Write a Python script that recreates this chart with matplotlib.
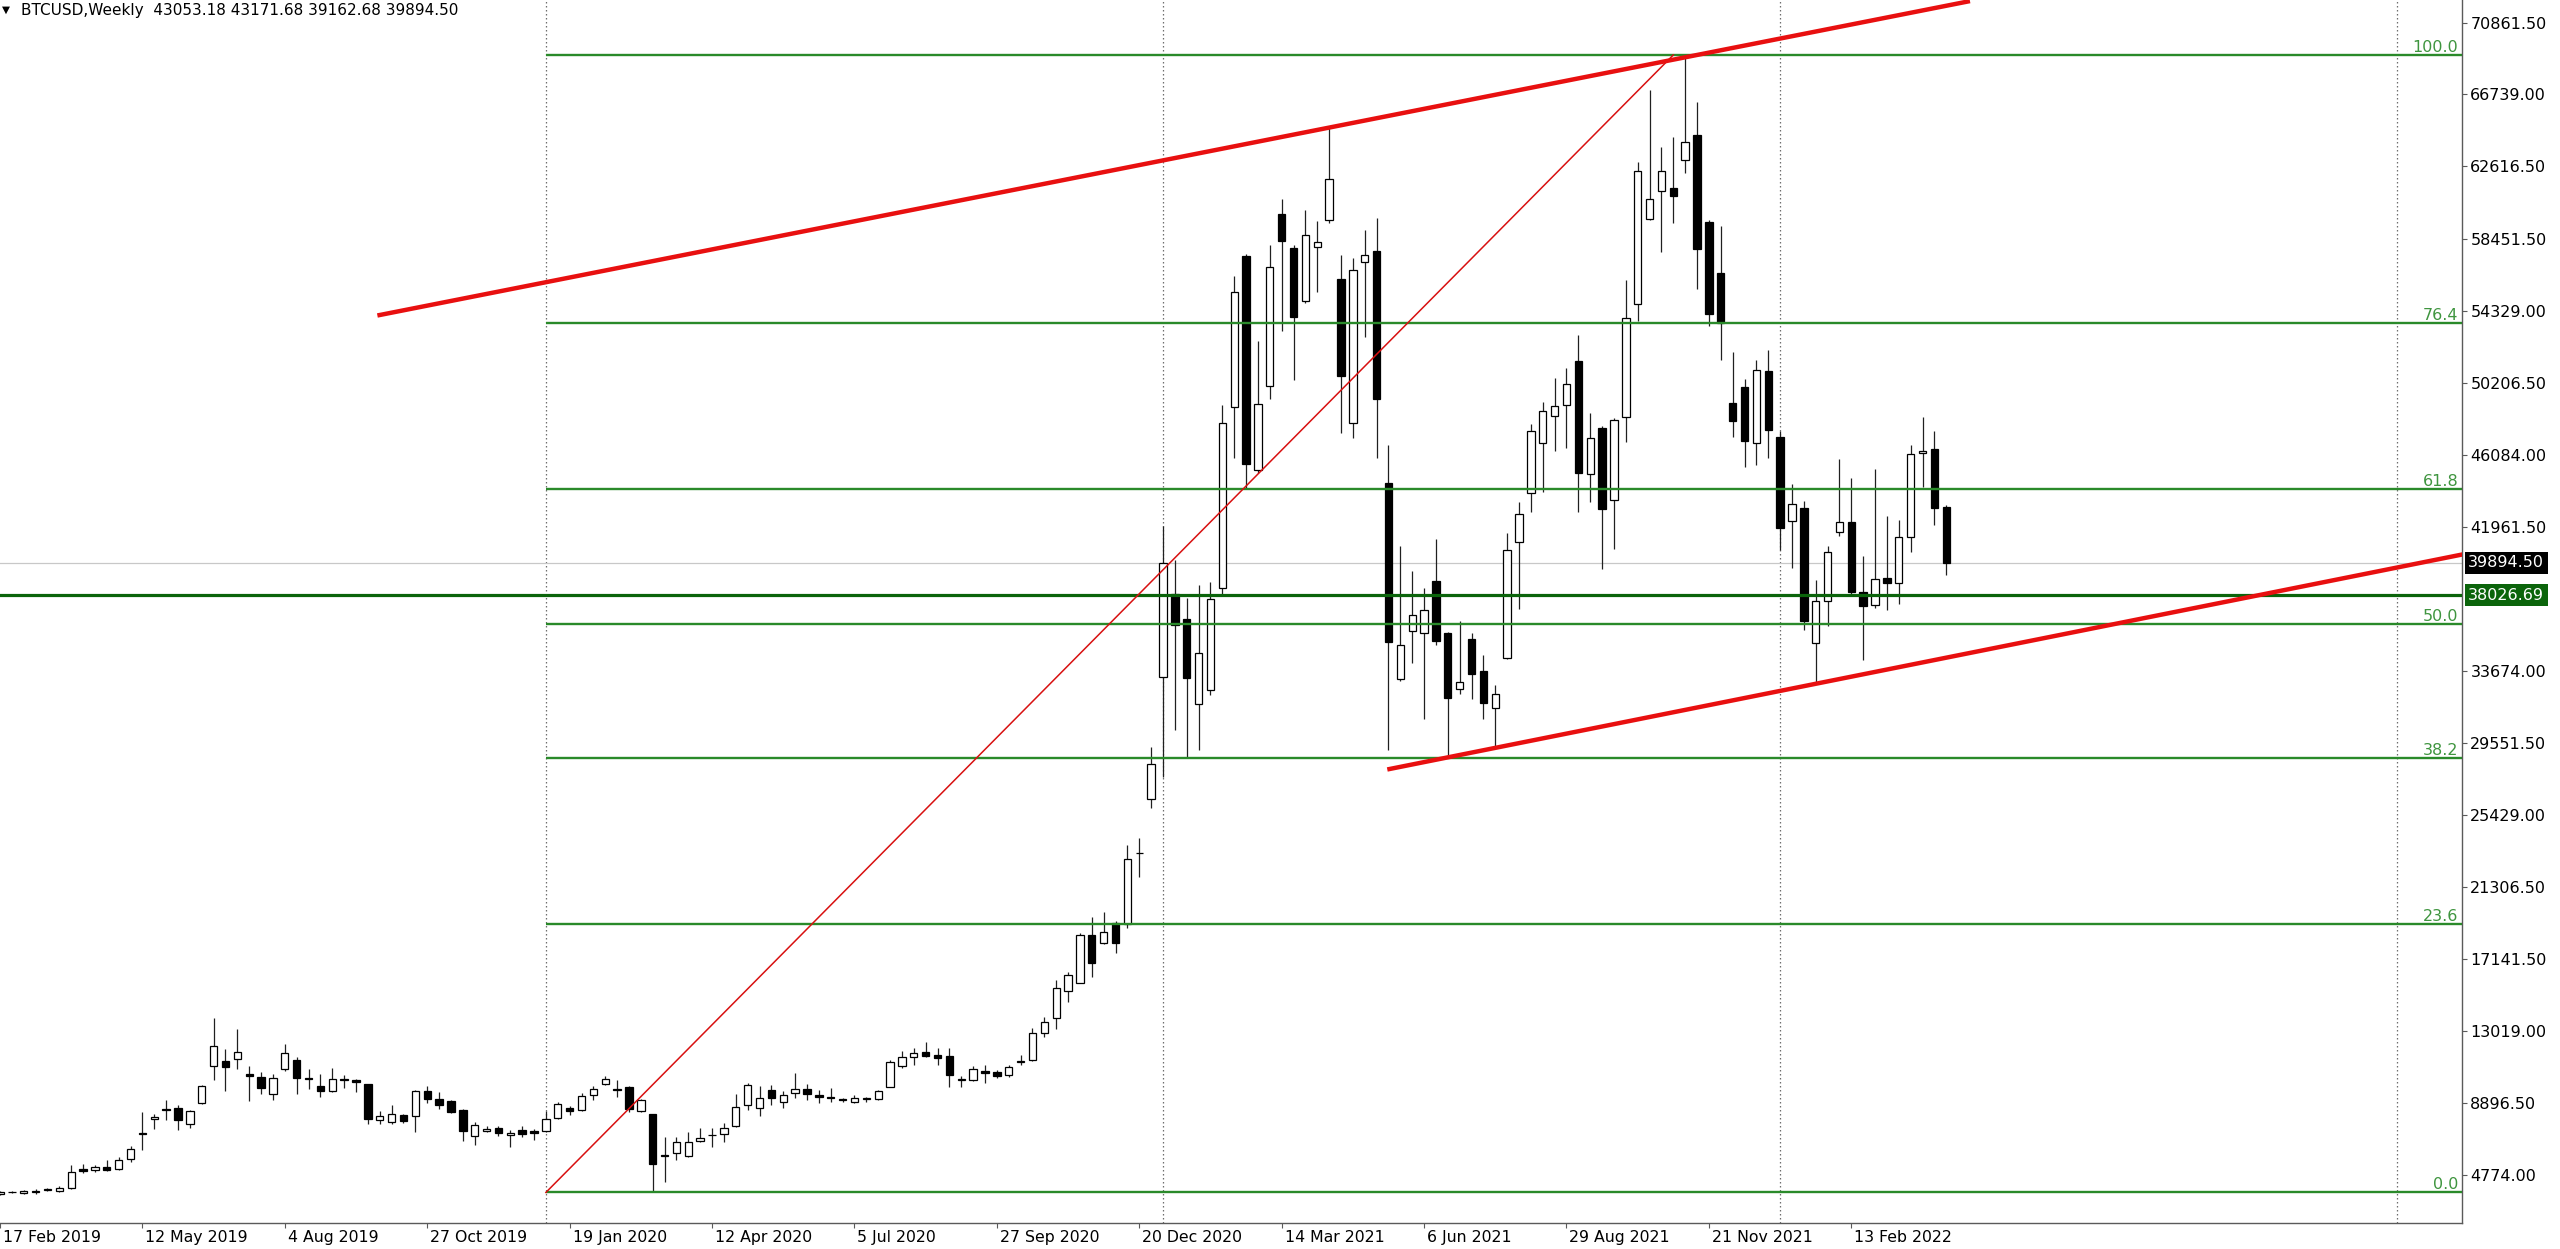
import matplotlib
matplotlib.use("Agg")
import matplotlib.pyplot as plt
import matplotlib.transforms as mtrans
import numpy as np

# ---------------- data (weekly candles, first week = 17 Feb 2019) ----------------
symbol_title = "BTCUSD,Weekly  43053.18 43171.68 39162.68 39894.50"

opens = [3700, 3780, 3736, 3820, 3930, 3870, 4041, 5093, 5035, 5246, 5093, 5704, 7160, 7979, 8533,
         8629, 7673, 8896, 10999, 11304, 11438, 10540, 10406, 9431, 10865, 11343, 10320, 9890, 9565,
         10291, 10215, 9967, 7940, 7807, 8189, 8151, 9584, 9107, 8992, 8514, 6985, 7291, 7482, 7080,
         7329, 7291, 7291, 8055, 8629, 8514, 9374, 9967, 9718, 9814, 8438, 8250, 5934, 6013, 5860,
         6720, 7050, 7103, 7581, 8786, 8594, 9646, 8977, 9455, 9684, 9359, 9250, 9100, 8939, 9130,
         9111, 9837, 11023, 11558, 11806, 11653, 11596, 10250, 10219, 10755, 10697, 10506, 11260,
         11367, 12934, 13757, 15344, 15803, 18537, 18097, 19206, 19168, 23220, 26335, 33360, 38120,
         36640, 31790, 32610, 38450, 48840, 57452, 45200, 50019, 59886, 57913, 54889, 57964, 59553,
         56170, 47917, 57144, 57785, 44457, 33231, 35974, 35845, 38818, 35845, 32642, 35486, 33692,
         31566, 34436, 41048, 43868, 46738, 48276, 48917, 51480, 44970, 47584, 43483, 48225, 54716,
         59572, 61198, 61351, 62976, 64410, 59400, 56513, 49045, 49942, 46764, 50864, 47071, 42279,
         43022, 35281, 37716, 41638, 42202, 38178, 37460, 38998, 38742, 41382, 46148, 46379, 43053.18]
highs = [3850, 3850, 3927, 3946, 4022, 4118, 5341, 5418, 5361, 5609, 5800, 6431, 8380, 8285, 9087,
         8762, 8476, 9928, 13789, 12012, 13159, 10999, 10674, 10578, 12260, 11534, 10865, 10578, 10903,
         10483, 10291, 10005, 8438, 8762, 8284, 9661, 9852, 9527, 9049, 8571, 7807, 7578, 7597, 7329,
         7578, 7425, 8438, 8954, 8724, 9470, 9852, 10425, 10234, 9852, 9145, 8284, 6940, 6931, 7218,
         7447, 7447, 7734, 9416, 10028, 9876, 9933, 9608, 10602, 9990, 9646, 9742, 9206, 9359, 9263,
         9646, 11367, 11902, 12036, 12418, 12036, 12036, 10449, 11042, 11080, 10793, 11080, 11653,
         13183, 13814, 15955, 16433, 18670, 19550, 19875, 19359, 23699, 24081, 29316, 41970, 40058,
         37860, 38624, 38758, 48917, 56349, 57580, 52582, 58092, 60732, 58092, 60091, 59451, 64833,
         57528, 57375, 58989, 59630, 46610, 40869, 39434, 38408, 41228, 35922, 36563, 35871, 34590,
         32898, 41613, 43355, 47840, 49122, 50480, 51044, 52915, 48481, 47700, 48173, 56093, 62842,
         66991, 63702, 64314, 69000, 66322, 59534, 59209, 51941, 50403, 51505, 52069, 47456, 44380,
         43432, 38870, 40843, 45841, 44765, 40279, 45277, 42586, 42330, 46610, 48225, 47456, 43171.68]
lows = [3650, 3740, 3697, 3697, 3870, 3812, 3984, 4882, 4940, 4997, 5055, 5513, 6182, 7425, 7940,
        7367, 7463, 8858, 10234, 9565, 10865, 9011, 9431, 9049, 10731, 9393, 9699, 9240, 9527,
        9775, 9508, 7673, 7673, 7711, 7750, 7233, 8896, 8571, 8323, 6717, 6469, 7233, 7023, 6373,
        6946, 6794, 7233, 7998, 8189, 8438, 9049, 9909, 9240, 8380, 8380, 3776, 4388, 5631, 5784,
        6682, 6395, 6682, 7543, 8499, 8154, 8786, 8594, 9206, 9072, 8881, 8977, 8977, 8881, 8977,
        9072, 9799, 10889, 11080, 11558, 11080, 9837, 9799, 10162, 10066, 10315, 10411, 11080,
        11329, 12705, 13126, 14713, 15764, 16147, 18020, 17485, 18919, 21882, 25819, 27580, 30272,
        28743, 29126, 32317, 38101, 45918, 44124, 45021, 49250, 53171, 50352, 54760, 55401, 59374,
        47328, 47020, 52838, 45867, 29131, 33103, 34128, 30925, 35153, 28746, 32334, 32078, 30925,
        29336, 34385, 37204, 42791, 43919, 46302, 46482, 42791, 43355, 39511, 40664, 46815, 53735,
        59534, 57680, 59381, 62249, 55557, 53454, 51505, 47071, 45354, 45482, 45867, 40587, 39562,
        36051, 32975, 36230, 41433, 38101, 34308, 37280, 37152, 37537, 40484, 44201, 42074, 39162.68]
closes = [3810, 3800, 3850, 3840, 3960, 4022, 4959, 4978, 5246, 5035, 5647, 6259, 7120, 8093, 8476,
          7902, 8418, 9871, 12184, 10980, 11821, 10425, 9775, 10349, 11782, 10329, 10290, 9565, 10291,
          10215, 10100, 7998, 8132, 8284, 7864, 9565, 9145, 8801, 8361, 7272, 7654, 7425, 7176, 7176,
          7138, 7176, 7998, 8858, 8418, 9279, 9718, 10272, 9623, 8571, 9087, 5382, 5877, 6644, 6644,
          6873, 7070, 7485, 8690, 9933, 9168, 9168, 9359, 9684, 9416, 9264, 9200, 9080, 9206, 9140,
          9588, 11271, 11520, 11749, 11596, 11462, 10506, 10260, 10831, 10640, 10449, 10984, 11280,
          12896, 13565, 15516, 16243, 18537, 16950, 18728, 18059, 22877, 23240, 28361, 39880, 36320,
          33300, 34730, 37820, 47917, 55401, 45534, 48993, 56862, 58349, 53991, 58682, 58272, 61886,
          50583, 56683, 57528, 49250, 35358, 35153, 36896, 37152, 35409, 32155, 33027, 33487, 31822,
          32386, 40613, 42663, 47456, 48609, 48866, 50147, 45021, 47020, 42970, 48096, 53940, 62364,
          60720, 62364, 60911, 63989, 57871, 54142, 53607, 48020, 46892, 50916, 47507, 41868, 43227,
          36563, 37716, 40484, 42202, 38178, 37409, 38947, 38742, 41356, 46097, 46302, 43047, 39894.50]

date_labels = ["17 Feb 2019", "12 May 2019", "4 Aug 2019", "27 Oct 2019", "19 Jan 2020",
               "12 Apr 2020", "5 Jul 2020", "27 Sep 2020", "20 Dec 2020", "14 Mar 2021",
               "6 Jun 2021", "29 Aug 2021", "21 Nov 2021", "13 Feb 2022"]
date_label_weeks = [0, 12, 24, 36, 48, 60, 72, 84, 96, 108, 120, 132, 144, 156]

price_ticks = [70861.50, 66739.00, 62616.50, 58451.50, 54329.00, 50206.50, 46084.00, 41961.50,
               33674.00, 29551.50, 25429.00, 21306.50, 17141.50, 13019.00, 8896.50, 4774.00]

fib_low_price, fib_high_price = 3776.0, 69000.0
fib_levels = [0.0, 23.6, 38.2, 50.0, 61.8, 76.4, 100.0]
fib_anchor_weeks = [46, 141]
level_price = 38026.69
last_price = 39894.50
year_separator_weeks = [46, 98, 150, 202]
upper_channel_weeks, upper_channel_prices = [31.8, 166.0], [54062, 72090]
lower_channel_weeks, lower_channel_prices = [116.9, 207.5], [28030, 40360]

# ---------------- figure ----------------
W, H = 2560, 1249
fig = plt.figure(figsize=(W / 100, H / 100), dpi=100)
fig.patch.set_facecolor("white")
ax_left, ax_bottom = 0, 26
ax_w, ax_h = 2462, 1223
ax = fig.add_axes([ax_left / W, ax_bottom / H, ax_w / W, ax_h / H])
ax.set_facecolor("white")

x_min, x_max = 0.22, 207.46
y_min, y_max = 2024, 72152
ax.set_xlim(x_min, x_max)
ax.set_ylim(y_min, y_max)

idx = np.arange(len(opens))
o = np.array(opens); h = np.array(highs); l = np.array(lows); c = np.array(closes)

# wicks
ax.vlines(idx, l, h, color="#202020", lw=0.9, zorder=2)
# bodies
bottoms = np.minimum(o, c)
heights = np.maximum(np.abs(c - o), 45)
bull = c >= o
face = np.where(bull, "white", "black")
ax.bar(idx, heights, bottom=bottoms, width=0.62, color=face, edgecolor="black",
       linewidth=0.9, zorder=3)

# separators
for s in year_separator_weeks:
    ax.axvline(s, color="#6e6e6e", lw=0.9, ls=(0, (1.2, 2.0)), zorder=1)

# last price line
ax.axhline(last_price, color="#c8c8c8", lw=0.9, zorder=1)

# fib retracement
fib_green = "#2a8a2a"
for lv in fib_levels:
    p = fib_low_price + (fib_high_price - fib_low_price) * lv / 100.0
    ax.hlines(p, fib_anchor_weeks[0], x_max, color=fib_green, lw=1.7, zorder=4)
    ax.text(0.9985, p, f"{lv:.1f}", transform=mtrans.blended_transform_factory(ax.transAxes, ax.transData),
            ha="right", va="bottom", fontsize=11.5, color="#3f953f", zorder=6,
            family="DejaVu Sans")
ax.plot(fib_anchor_weeks, [fib_low_price, fib_high_price], color="#d81010", lw=1.1, zorder=5)

# horizontal level
ax.axhline(level_price, color="#0b640b", lw=2.3, zorder=4)

# channel lines
ax.plot(upper_channel_weeks, upper_channel_prices, color="#e81010", lw=3.2, zorder=5,
        solid_capstyle="butt")
ax.plot(lower_channel_weeks, lower_channel_prices, color="#e81010", lw=3.2, zorder=5,
        solid_capstyle="butt")

# axes styling
for side in ["left", "top"]:
    ax.spines[side].set_visible(False)
for side in ["right", "bottom"]:
    ax.spines[side].set_color("#5a5a5a")
    ax.spines[side].set_linewidth(1.0)

ax.yaxis.tick_right()
ax.set_yticks(price_ticks)
ax.set_yticklabels([f"{p:.2f}" for p in price_ticks])
ax.tick_params(axis="y", length=3.5, width=0.8, color="#5a5a5a", pad=2.5, labelsize=11.5,
               labelcolor="black")

ax.set_xticks(date_label_weeks)
ax.set_xticklabels(date_labels, ha="left")
ax.tick_params(axis="x", length=3.5, width=0.8, color="#5a5a5a", pad=1.5, labelsize=11.3,
               labelcolor="black", direction="out")
shift = mtrans.ScaledTranslation(3 / 100, 0, fig.dpi_scale_trans)
for lab in ax.get_xticklabels():
    lab.set_transform(lab.get_transform() + shift)

# price boxes on the right scale
bt = mtrans.blended_transform_factory(ax.transAxes, ax.transData)
ax.text(1.0025, last_price, f"{last_price:.2f}", transform=bt, ha="left", va="center",
        fontsize=11.5, color="white", zorder=10, clip_on=False,
        bbox=dict(facecolor="black", edgecolor="none", boxstyle="square,pad=0.22"))
ax.text(1.0025, level_price, f"{level_price:.2f}", transform=bt, ha="left", va="center",
        fontsize=11.5, color="white", zorder=10, clip_on=False,
        bbox=dict(facecolor="#0b640b", edgecolor="none", boxstyle="square,pad=0.22"))

# title
fig.text(2 / W, 1 - 10 / H, "\u25BC", fontsize=7.5, va="center", ha="left", color="black")
fig.text(21 / W, 1 - 10 / H, symbol_title, fontsize=11, va="center", ha="left", color="black")

fig.savefig("out.png", dpi=100, facecolor="white")
